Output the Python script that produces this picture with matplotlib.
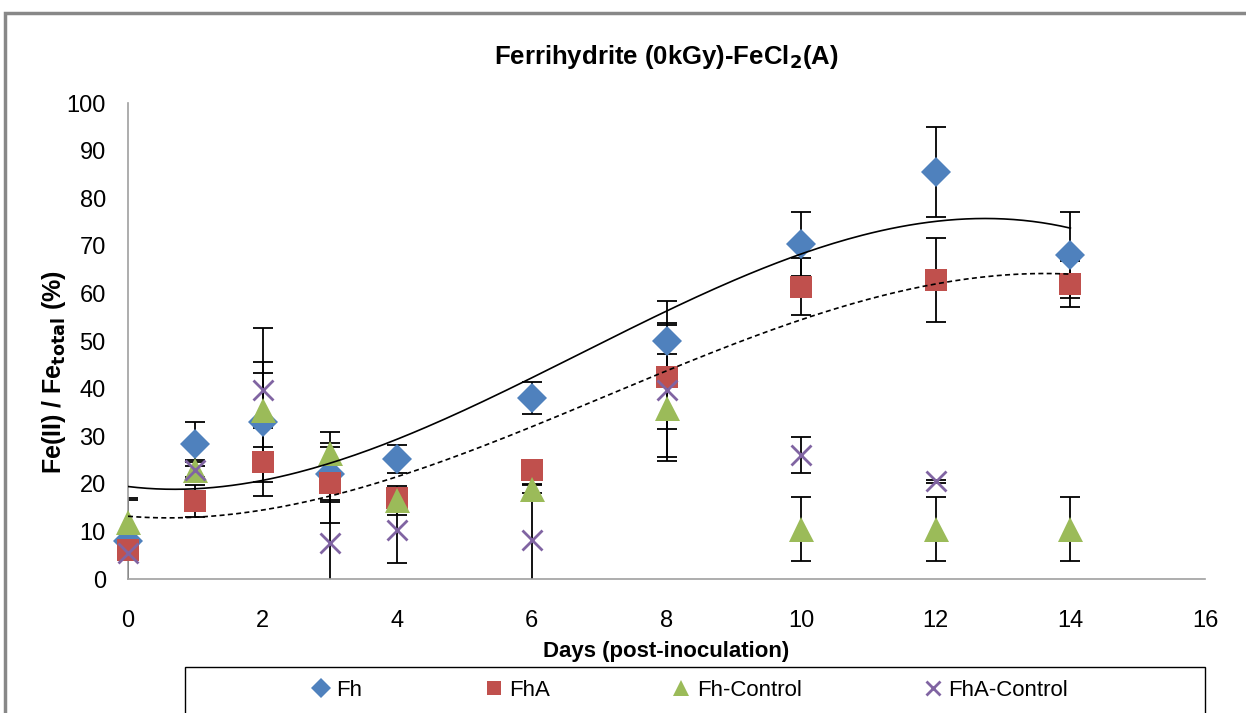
import numpy as np
import matplotlib
matplotlib.use("Agg")
import matplotlib.pyplot as plt
from matplotlib.patches import Rectangle

days = [0, 1, 2, 3, 4, 6, 8, 10, 12, 14]

fh = [8, 28.4, 33, 22, 25.2, 38, 50, 70.4, 85.5, 68]
fh_err = [9, 4.6, 12.6, 5.8, 3, 3.4, 8.4, 6.7, 9.5, 9]

fha = [6, 16.4, 24.6, 20.2, 17, 22.9, 42.5, 61.4, 62.8, 62]
fha_err = [1, 3.3, 7.2, 8.4, 0.5, 0.5, 10.9, 6, 8.8, 4.8]

fh_ctrl = [12, 23, 35.5, 26.5, 16.5, 19, 36, 10.5, 10.5, 10.5]
fh_ctrl_err = [4.5, 2, 7.8, 4.4, 3, 1, 11.2, 6.7, 6.7, 6.7]

fha_ctrl = [5.4, 23, 39.7, 7.6, 10.3, 8.2, 39.7, 26, 20.5, np.nan]
fha_ctrl_err = [1, 1.6, 13, 9, 7, 11.5, 14, 3.8, 0.3, np.nan]

series = [
    ("Fh", fh, fh_err, "D", "#4F81BD", 15),
    ("FhA", fha, fha_err, "s", "#C0504D", 16),
    ("Fh-Control", fh_ctrl, fh_ctrl_err, "^", "#9BBB59", 18),
    ("FhA-Control", fha_ctrl, fha_ctrl_err, "x", "#8064A2", 15),
]

plt.rcParams['font.family'] = ['Liberation Sans', 'DejaVu Sans']

W, H = 1246, 713
fig = plt.figure(figsize=(W / 100, H / 100), dpi=100)
ax = fig.add_axes([128 / W, (H - 579) / H, (1205 - 128) / W, (579 - 103) / H])

# error bars first, markers on top
for name, vals, err, mk, col, ms in series:
    ax.errorbar(days, vals, yerr=err, fmt="none", ecolor="black",
                elinewidth=1.3, capsize=7, capthick=1.3, zorder=2)
for i, (name, vals, err, mk, col, ms) in enumerate(series):
    ew = 2 if mk == "x" else 0
    ax.plot(days, vals, linestyle="none", marker=mk, color=col,
            markersize=ms, markeredgewidth=ew, label=name,
            zorder=3 + i, clip_on=False)

# polynomial trendlines (order 3) for Fh and FhA
xs = np.linspace(0, 14, 200)
p_fh = np.polyfit(days, fh, 3)
p_fha = np.polyfit(days, fha, 3)
ax.plot(xs, np.polyval(p_fh, xs), color="black", lw=1.2, zorder=10)
ax.plot(xs, np.polyval(p_fha, xs), color="black", lw=1.2,
        linestyle=(0, (3, 2)), zorder=10)

ax.set_xlim(0, 16)
ax.set_ylim(0, 100)
ax.set_xticks(range(0, 17, 2))
ax.set_yticks(range(0, 101, 10))
ax.tick_params(length=0, labelsize=17)
ax.tick_params(axis="x", pad=22)
ax.tick_params(axis="y", pad=16)
for s in ["top", "right"]:
    ax.spines[s].set_visible(False)
for s in ["left", "bottom"]:
    ax.spines[s].set_color("#A0A0A0")
    ax.spines[s].set_linewidth(1.2)

ax.set_title("Ferrihydrite (0kGy)-FeCl$_\\mathbf{2}$(A)", fontsize=18.5,
             fontweight="bold", pad=28)
ax.set_xlabel("Days (post-inoculation)", fontsize=16, fontweight="bold",
              labelpad=7)
ax.set_ylabel("Fe(II) / Fe$_{\\mathbf{total}}$ (%)", fontsize=18,
              fontweight="bold")
ax.yaxis.set_label_coords(-0.056, 0.435)

# outer chart border and legend box (cut off at the bottom)
fig.patches.append(Rectangle((5 / W, -0.2), 1.5, (H - 13) / H + 0.2,
                             transform=fig.transFigure, fill=False,
                             ec="#888888", lw=2.5))
fig.patches.append(Rectangle((185 / W, -0.2), (1205 - 185) / W,
                             (H - 667) / H + 0.2, transform=fig.transFigure,
                             fill=False, ec="black", lw=1))

handles, labels = ax.get_legend_handles_labels()
leg = fig.legend(handles, labels, loc="center", ncol=4,
                 bbox_to_anchor=(690 / W, (H - 690) / H), frameon=False,
                 fontsize=16, markerscale=0.65, handlelength=0.8,
                 handletextpad=0.3, columnspacing=5.5)

fig.savefig("out.png", dpi=100)
